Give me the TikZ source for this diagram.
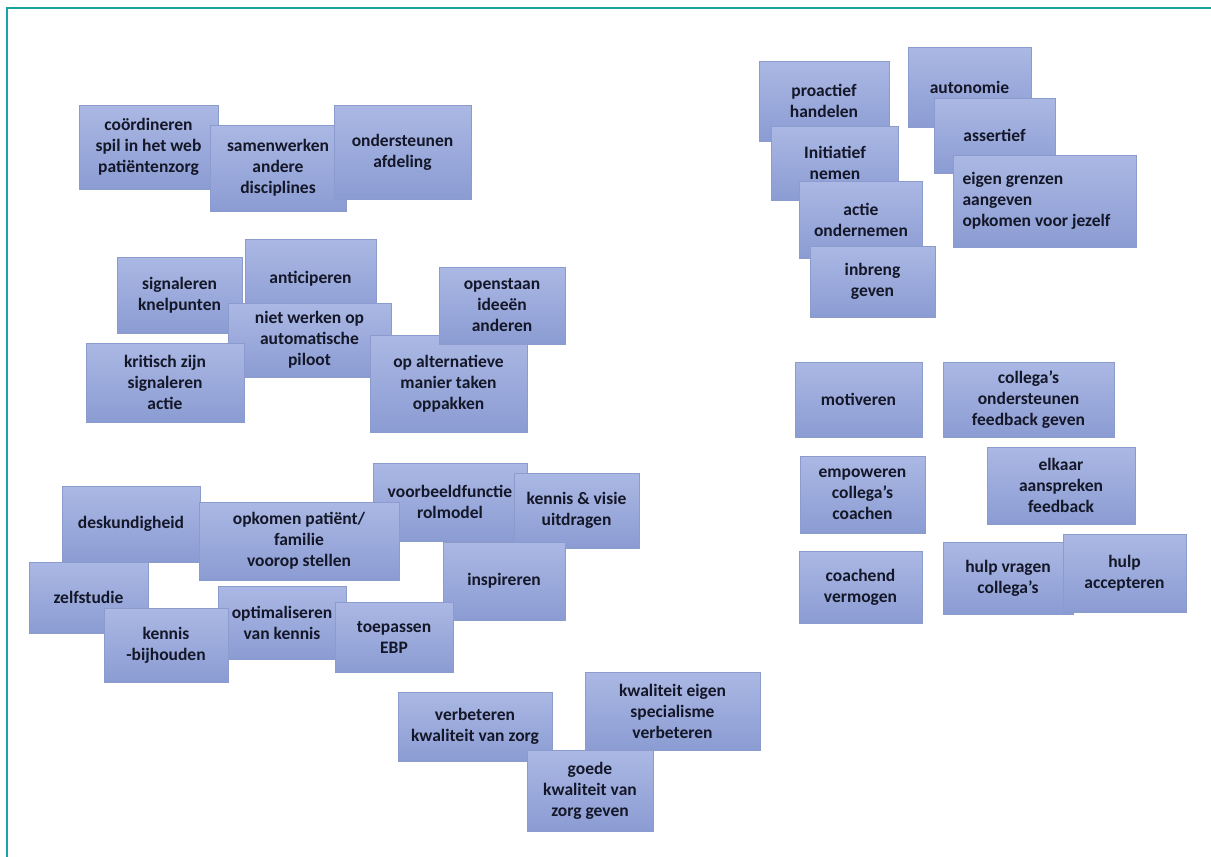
\documentclass[tikz,border=0pt]{standalone}
\usepackage{fontspec}
\setmainfont{Carlito}
\usepackage{tikz}
\definecolor{cardtop}{RGB}{171,184,228}
\definecolor{cardbottom}{RGB}{139,156,211}
\definecolor{cardline}{RGB}{140,155,205}
\definecolor{cardtext}{RGB}{20,23,40}
\definecolor{frameline}{RGB}{27,163,160}
\tikzset{
card/.style={rectangle, draw=cardline, line width=0.6pt,
  top color=cardtop, bottom color=cardbottom, % soft blue gradient
  text=cardtext, align=center, inner sep=0pt,
  font=\bfseries\fontsize{17.5}{21}\selectfont}, % one card on the board
cardsize/.style 2 args={minimum width=#1pt, minimum height=#2pt}, % width, height in px
frame/.style={frameline, line width=2pt}, % teal edge top and left
}

\begin{document}
\begin{tikzpicture}[x=1pt, y=-1pt]%one unit = one pixel, y downwards
  \useasboundingbox (0,0) rectangle (1211,857);
  \draw[frame] (1211,8) -- (7,8) -- (7,857);

  % top left
  \node[card, cardsize={139}{84}] (coord) at (148.5,147) {coördineren\\spil in het web\\patiëntenzorg};
  \node[card, cardsize={136}{86}] (samenw) at (278,168) {samenwerken\\andere\\disciplines};
  \node[card, cardsize={137}{94}] (onderst) at (402.5,152) {ondersteunen\\afdeling};

  % middle left
  \node[card, cardsize={125}{76}] (signal) at (179.5,295) {signaleren\\knelpunten};
  \node[card, cardsize={131}{80}] (anticip) at (310.5,279) {anticiperen};
  \node[card, cardsize={163}{74}] (nietwerk) at (309.5,340) {niet werken op\\automatische\\piloot};
  \node[card, cardsize={158}{79}] (kritisch) at (165,382.5) {kritisch zijn\\signaleren\\actie};
  \node[card, cardsize={157}{97}] (alternat) at (448.5,383.5) {op alternatieve\\manier taken\\oppakken};
  \node[card, cardsize={126}{77}] (openst) at (502,305.5) {openstaan\\ideeën\\anderen};

  % lower left
  \node[card, cardsize={138}{76}] (deskund) at (131,524) {deskundigheid};
  \node[card, cardsize={119}{71}] (zelfstud) at (88.5,597.5) {zelfstudie};
  \node[card, cardsize={154}{78}] (voorbeeld) at (450,502) {voorbeeldfunctie\\rolmodel};
  \node[card, cardsize={200}{78}] (opkomen) at (299,541) {opkomen patiënt/\\familie\\voorop stellen};
  \node[card, cardsize={125}{75}] (kennisvisie) at (576.5,510.5) {kennis \& visie\\uitdragen};
  \node[card, cardsize={122}{78}] (inspir) at (504,581) {inspireren};
  \node[card, cardsize={128}{73}] (optimal) at (282,622.5) {optimaliseren\\van kennis};
  \node[card, cardsize={124}{74}] (kennisbij) at (166,645) {kennis\\-bijhouden};
  \node[card, cardsize={118}{70}] (toepass) at (394,637) {toepassen\\EBP};

  % bottom
  \node[card, cardsize={154}{69}] (verbeter) at (475,726.5) {verbeteren\\kwaliteit van zorg};
  \node[card, cardsize={175}{78}] (kwalspec) at (672.5,711) {kwaliteit eigen\\specialisme\\verbeteren};
  \node[card, cardsize={126}{81}] (goede) at (590,790.5) {goede\\kwaliteit van\\zorg geven};

  % upper right
  \node[card, cardsize={130}{80}] (proact) at (824,101) {proactief\\handelen};
  \node[card, cardsize={127}{74}] (initiat) at (835,163) {Initiatief\\nemen};
  \node[card, cardsize={122.5}{77}] (actie) at (861,219.5) {actie\\ondernemen};
  \node[card, cardsize={125}{71}] (inbreng) at (872.5,281.5) {inbreng\\geven};
  \node[card, cardsize={123}{80}] (autonom) at (969.5,87) {autonomie};
  \node[card, cardsize={121}{75}] (assert) at (994.5,135.5) {assertief};
  \node[card, cardsize={183}{92}, align=flush left, text width=165pt] (eigen) at (1045,201) {eigen grenzen\\aangeven\\opkomen voor jezelf};

  % lower right
  \node[card, cardsize={127}{75}] (motiv) at (858.5,399.5) {motiveren};
  \node[card, cardsize={171}{75}] (collond) at (1028.5,399.5) {collega’s\\ondersteunen\\feedback geven};
  \node[card, cardsize={125}{77}] (empow) at (862.5,494.5) {empoweren\\collega’s\\coachen};
  \node[card, cardsize={148}{77}] (elkaar) at (1061,485.5) {elkaar\\aanspreken\\feedback};
  \node[card, cardsize={123}{72}] (coachend) at (860.5,587) {coachend\\vermogen};
  \node[card, cardsize={130}{72}] (hulpvr) at (1008,578) {hulp vragen\\collega’s};
  \node[card, cardsize={123}{78}] (hulpacc) at (1124.5,573) {hulp\\accepteren};
\end{tikzpicture}
\end{document}
